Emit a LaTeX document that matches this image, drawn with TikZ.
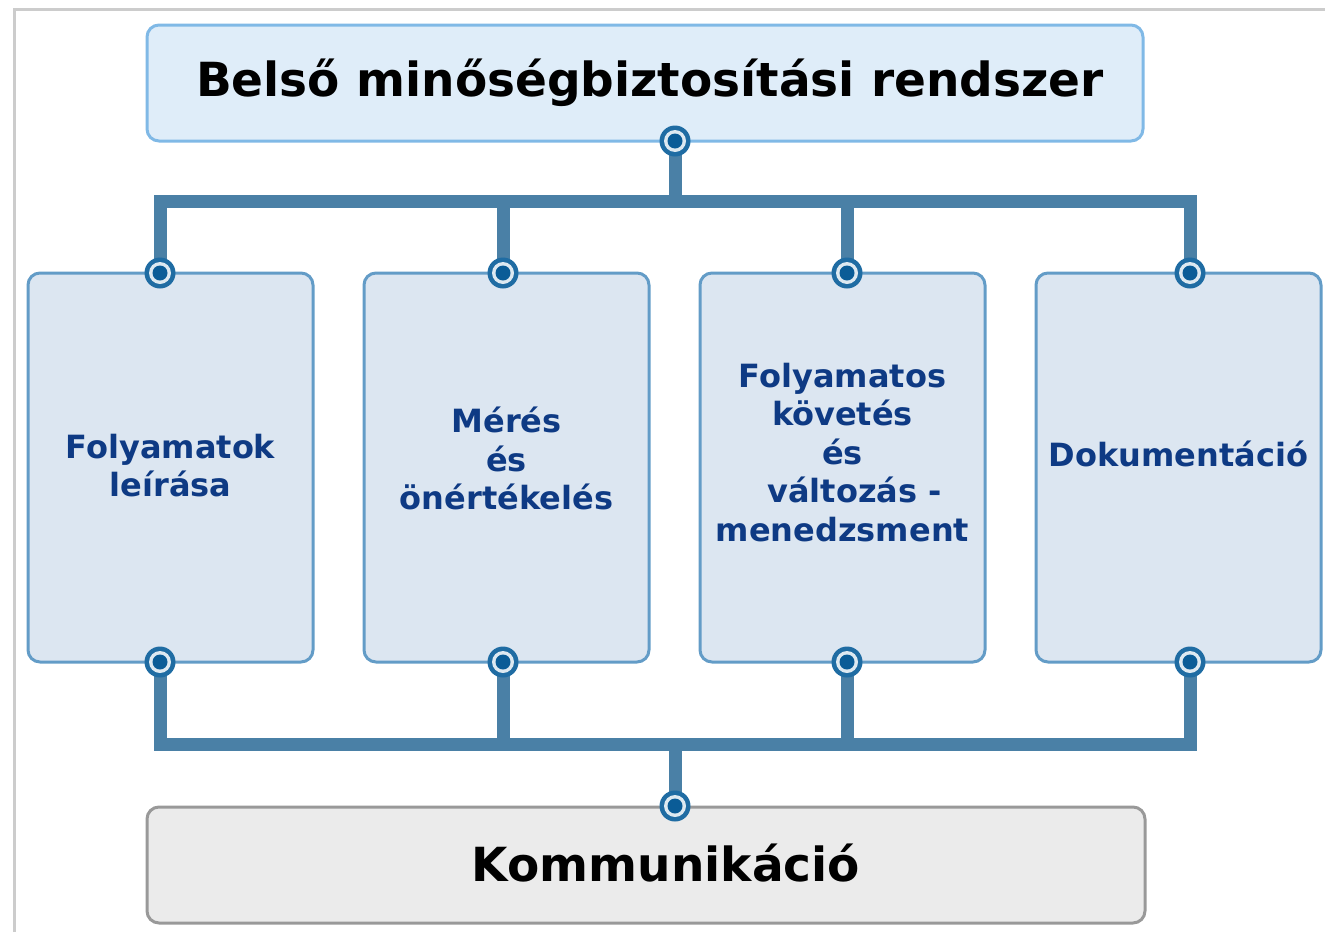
\documentclass[tikz,border=0pt]{standalone}
\usepackage{fontspec}
\setmainfont{DejaVu Sans}
\usetikzlibrary{calc,backgrounds}

\definecolor{busblue}{HTML}{4A80A6}
\definecolor{pinring}{HTML}{1F6CA3}
\definecolor{pincore}{HTML}{0A5C97}
\definecolor{textnavy}{HTML}{0E3A84}
\definecolor{topfill}{HTML}{DFEDF9}
\definecolor{topline}{HTML}{80B9E6}
\definecolor{subfill}{HTML}{DCE6F1}
\definecolor{subline}{HTML}{639CC7}

\tikzset{
	topbox/.style={draw=topline, fill=topfill, line width=3pt, rounded corners=12pt,
		minimum width=996pt, minimum height=116pt},
	subbox/.style={draw=subline, fill=subfill, line width=3pt, rounded corners=12pt,
		minimum width=285pt, minimum height=389pt},
	botbox/.style={draw=black!40, fill=black!8, line width=3pt, rounded corners=12pt,
		minimum width=998pt, minimum height=116pt},
	bigtext/.style={font=\fontsize{47}{54}\selectfont\bfseries},
	subtext/.style={align=center, text=textnavy, font=\fontsize{32}{38.5}\selectfont\bfseries},
	bus/.style={line width=13pt, color=busblue},
	pin/.style={circle, fill=pinring, minimum size=31pt, inner sep=0pt,
		path picture={\fill[white!85!pinring] (path picture bounding box.center) circle (11pt);
			\fill[pincore] (path picture bounding box.center) circle (7.5pt);}}
}

\begin{document}
\begin{tikzpicture}[x=1pt,y=-1pt]
			%%%%% START %%%%%
			
			\useasboundingbox (0,0) rectangle (1325,932);
			\draw[line width=3pt, color=black!20] (14,932) -- (14,9) -- (1325,9);
			
			\node[topbox] (rendszer) at (645,83) {};
			\node[botbox] (kommunikacio) at (646,865) {};
			\node[bigtext] (rendszer-t) at ($(rendszer)+(5,0)$) {Belső minőségbiztosítási rendszer};
			\node[bigtext] (kommunikacio-t) at ($(kommunikacio)+(20,-2)$) {Kommunikáció};
			
			\node[subbox] (leiras) at (170.5,467.5) {};
			\node[subbox] (meres) at (506.5,467.5) {};
			\node[subbox] (kovetes) at (842.5,467.5) {};
			\node[subbox] (dokumentacio) at (1178.5,467.5) {};
			
			\node[subtext] (leiras-t) at ($(leiras)+(0,-2)$) {Folyamatok\\leírása};
			\node[subtext] (meres-t) at ($(meres)+(0,-9)$) {Mérés\\és\\önértékelés};
			\node[subtext] (kovetes-t) at ($(kovetes)+(0,-15)$) {Folyamatos\\követés\\és\\\hspace*{24pt}változás -\\menedzsment};
			\node[subtext] (dokumentacio-t) at ($(dokumentacio)+(0,-14)$) {Dokumentáció};
			
			% upper bus
			\coordinate (busup) at (675,201);
			\node[pin] (ptop) at (675,141) {};
			\node[pin] (p1n) at (160,273) {};
			\node[pin] (p2n) at (503,273) {};
			\node[pin] (p3n) at (847,273) {};
			\node[pin] (p4n) at (1190,273) {};
			
			% lower bus
			\coordinate (busdown) at (675,744);
			\node[pin] (pbot) at (675,806) {};
			\node[pin] (p1s) at (160,662) {};
			\node[pin] (p2s) at (503,662) {};
			\node[pin] (p3s) at (847,662) {};
			\node[pin] (p4s) at (1190,662) {};
			
			\begin{scope}[on background layer]
			\draw[bus] (ptop.center) -- (busup);
			\draw[bus] (p1n.center) |- (busup) -| (p4n.center);
			\draw[bus] (p2n.center) -- (p2n |- busup);
			\draw[bus] (p3n.center) -- (p3n |- busup);
			
			\draw[bus] (pbot.center) -- (busdown);
			\draw[bus] (p1s.center) |- (busdown) -| (p4s.center);
			\draw[bus] (p2s.center) -- (p2s |- busdown);
			\draw[bus] (p3s.center) -- (p3s |- busdown);
			\end{scope}
			
			%%%%% END %%%%%
\end{tikzpicture}
\end{document}
